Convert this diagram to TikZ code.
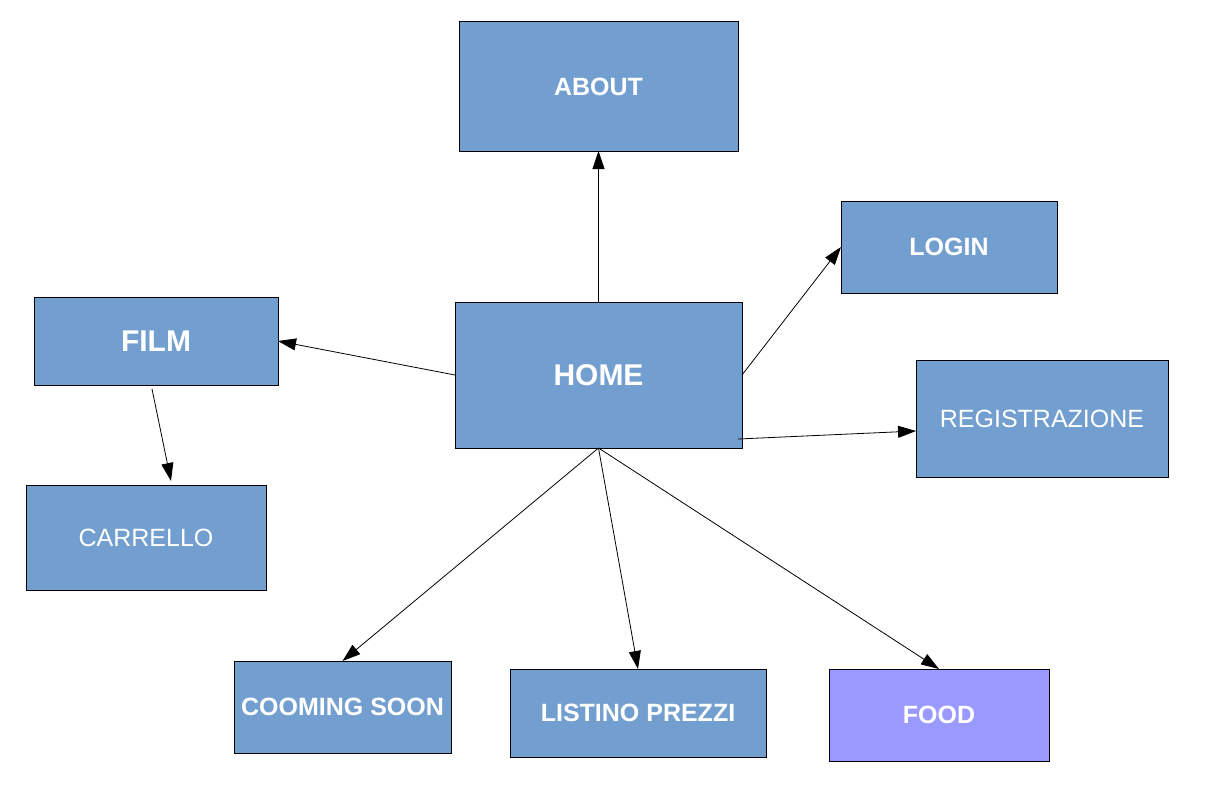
\documentclass[tikz,border=0pt]{standalone}
\usepackage{fontspec}
\setmainfont{Liberation Sans}
\usetikzlibrary{arrows.meta,calc}
\definecolor{boxblue}{HTML}{729FCF}
\definecolor{boxviolet}{HTML}{9999FF}
\tikzset{
  pagebox/.style={draw=black, line width=1pt, fill=boxblue, text=white, inner sep=0pt, outer sep=0pt, align=center, text depth=-1pt},
  bigtxt/.style={font=\fontsize{30}{35}\selectfont\bfseries},
  boldtxt/.style={font=\fontsize{25}{30}\selectfont\bfseries},
  plaintxt/.style={font=\fontsize{25}{30}\selectfont},
  link/.style={draw=black, line width=0.8pt, -{Triangle[length=18pt,width=12pt]}},
}
\begin{document}
\begin{tikzpicture}[x=1pt,y=-1pt]
\useasboundingbox (0,0) rectangle (1224,792);
\node[pagebox,boldtxt,minimum width=279pt,minimum height=129pt] (about) at (598.5,86.5) {ABOUT};
\node[pagebox,boldtxt,minimum width=216pt,minimum height=92pt] (login) at (949,247) {LOGIN};
\node[pagebox,bigtxt,minimum width=244pt,minimum height=88pt] (film) at (156,341) {FILM};
\node[pagebox,bigtxt,minimum width=287pt,minimum height=146pt] (home) at (598.5,375) {HOME};
\node[pagebox,plaintxt,minimum width=252pt,minimum height=117pt] (reg) at (1042,418.5) {REGISTRAZIONE};
\node[pagebox,plaintxt,minimum width=240pt,minimum height=105pt] (carrello) at (146,537.5) {CARRELLO};
\node[pagebox,boldtxt,minimum width=217pt,minimum height=92pt] (soon) at (342.5,707) {COOMING SOON};
\node[pagebox,boldtxt,minimum width=256pt,minimum height=88pt] (listino) at (638,713) {LISTINO PREZZI};
\node[pagebox,boldtxt,fill=boxviolet,minimum width=220pt,minimum height=92pt] (food) at (939,715) {FOOD};

\draw[link] (home.north) -- (about.south);
\draw[link] (home.west) -- (film.east);
\draw[link] (home.east) -- (login.west);
\draw[link] ($(home.south east)+(-4,-9)$) -- ($(reg.west)+(0,12.5)$);
\draw[link] (home.south) -- (soon.north);
\draw[link] (home.south) -- (listino.north);
\draw[link] (home.south) -- (food.north);
\draw[link] ($(film.south)+(-4,4)$) -- ($(carrello.north)+(25,-4)$);
\end{tikzpicture}
\end{document}
